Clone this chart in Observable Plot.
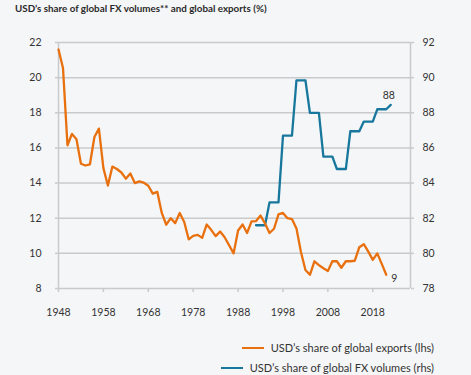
<!DOCTYPE html>
<html><head><meta charset="utf-8">
<script src="https://cdn.jsdelivr.net/npm/d3@7"></script>
<script src="https://cdn.jsdelivr.net/npm/@observablehq/plot@0.6"></script>
<style>
body{margin:0;background:#f5f6f8;width:471px;height:375px;overflow:hidden;position:relative;font-family:Lato,"Open Sans",sans-serif;}
#title{position:absolute;left:15px;top:2px;font-size:9.8px;font-weight:bold;color:#2a2a2a;white-space:nowrap;}
#chart{position:absolute;left:0;top:30px;}
#legend{position:absolute;right:37px;top:340px;display:flex;flex-direction:column;align-items:flex-end;gap:5px;font-size:11px;color:#333;}
.row{display:flex;align-items:center;white-space:nowrap;height:15px;}
.sw{width:22px;height:2px;margin-right:7px;}
</style></head><body>
<div id="title"></div>
<div id="chart"></div>
<div id="legend"></div>
<script>
const titleText = "USD\u2019s share of global FX volumes** and global exports (%)";
const seriesNames = ["USD\u2019s share of global exports (lhs)", "USD\u2019s share of global FX volumes (rhs)"];
const seriesColors = ["#e8700e", "#17779c"];

const exportYears = [1948,1949,1950,1951,1952,1953,1954,1955,1956,1957,1958,1959,1960,1961,1962,1963,1964,1965,1966,1967,1968,1969,1970,1971,1972,1973,1974,1975,1976,1977,1978,1979,1980,1981,1982,1983,1984,1985,1986,1987,1988,1989,1990,1991,1992,1993,1994,1995,1996,1997,1998,1999,2000,2001,2002,2003,2004,2005,2006,2007,2008,2009,2010,2011,2012,2013,2014,2015,2016,2017,2018,2019,2020,2021];
const exportShare = [21.6,20.55,16.15,16.8,16.5,15.1,15.0,15.07,16.62,17.1,14.85,13.86,14.94,14.8,14.6,14.25,14.55,14.0,14.1,14.02,13.85,13.4,13.5,12.3,11.63,12.0,11.72,12.3,11.78,10.8,11.0,11.05,10.88,11.64,11.34,10.98,11.24,10.92,10.46,10.0,11.3,11.64,11.16,11.82,11.84,12.15,11.7,11.16,11.4,12.22,12.3,12.0,11.95,11.42,10.08,9.05,8.78,9.55,9.33,9.15,9.0,9.55,9.55,9.18,9.55,9.55,9.58,10.35,10.52,10.1,9.63,10.0,9.4,8.78];

const fxYears = [1992,1993,1994,1995,1996,1997,1998,1999,2000,2001,2002,2003,2004,2005,2006,2007,2008,2009,2010,2011,2012,2013,2014,2015,2016,2017,2018,2019,2020,2021,2022];
const fxShare = [81.6,81.6,81.6,82.9,82.9,82.9,86.7,86.7,86.7,89.85,89.85,89.85,88.0,88.0,88.0,85.5,85.5,85.5,84.8,84.8,84.8,86.95,86.95,86.95,87.5,87.5,87.5,88.2,88.2,88.2,88.45];

const xTicks = [1948,1958,1968,1978,1988,1998,2008,2018];
const leftTicks = [8,10,12,14,16,18,20,22];
const rightOffset = 70; // rhs 78..92 maps onto lhs 8..22
const endLabels = ["9", "88"];

document.getElementById("title").textContent = titleText;

const exportsData = exportYears.map((y,i)=>({year:y, v:exportShare[i]}));
const fxData = fxYears.map((y,i)=>({year:y, v:fxShare[i] - rightOffset}));
const lastExp = exportsData[exportsData.length-1];
const lastFx = fxData[fxData.length-1];

const font = 'Lato,"Open Sans",sans-serif';
const grid = "#c9cacc";

const chart = Plot.plot({
  width: 471, height: 295,
  marginLeft: 58, marginRight: 61, marginTop: 12, marginBottom: 37,
  style: {background: "transparent", fontFamily: font, fontSize: "10.5px", color: "#333"},
  x: {domain: [1948, 2026.4]},
  y: {domain: [8, 22]},
  marks: [
    Plot.gridY(leftTicks, {stroke: grid, strokeOpacity: 1, strokeWidth: 1.5}),
    Plot.ruleX([1948, 2026.4], {stroke: grid, strokeWidth: 1.5}),
    Plot.axisY(leftTicks, {anchor: "left", tickSize: 3, tickPadding: 14, stroke: grid, strokeWidth: 1.5, label: null}),
    Plot.axisY(leftTicks, {anchor: "right", tickSize: 3, tickPadding: 9, stroke: grid, strokeWidth: 1.5, tickFormat: d => d + rightOffset, label: null, textAnchor: "start"}),
    Plot.axisX(xTicks, {anchor: "bottom", tickSize: 4, tickPadding: 16, stroke: grid, strokeWidth: 1.5, tickFormat: d => String(d), label: null}),
    Plot.lineY(fxData, {x: "year", y: "v", stroke: seriesColors[1], strokeWidth: 2.3}),
    Plot.lineY(exportsData, {x: "year", y: "v", stroke: seriesColors[0], strokeWidth: 2.3}),
    Plot.text([lastFx], {x: "year", y: "v", text: () => endLabels[1], dx: -2, dy: -9, fill: "#333", fontSize: 10.5}),
    Plot.text([lastExp], {x: "year", y: "v", text: () => endLabels[0], dx: 5, dy: 4, textAnchor: "start", fill: "#333", fontSize: 10.5})
  ]
});
document.getElementById("chart").appendChild(chart);

const legend = document.getElementById("legend");
seriesNames.forEach((n,i)=>{
  const r = document.createElement("div"); r.className = "row";
  const s = document.createElement("div"); s.className = "sw"; s.style.background = seriesColors[i];
  const t = document.createElement("span"); t.textContent = n;
  r.appendChild(s); r.appendChild(t); legend.appendChild(r);
});
</script>
</body></html>
